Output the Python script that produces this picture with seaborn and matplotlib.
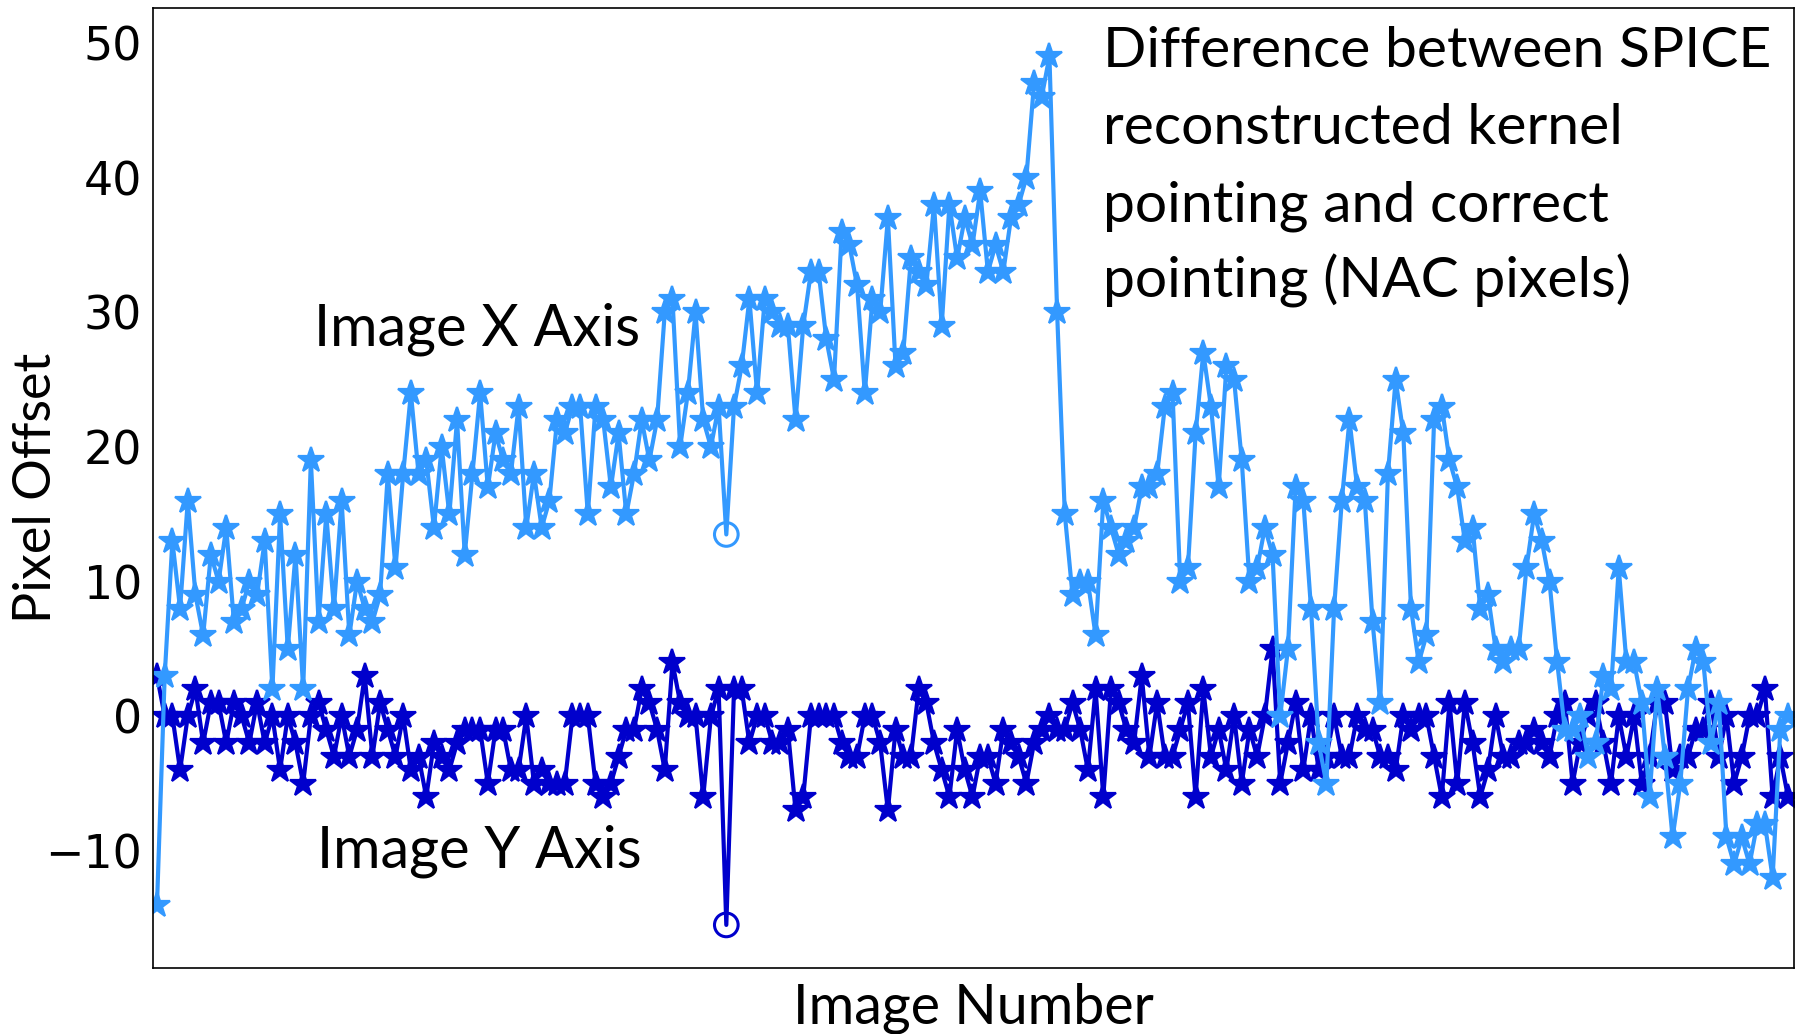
import matplotlib
matplotlib.use("Agg")
import matplotlib.pyplot as plt
import numpy as np
import pandas as pd
import seaborn as sns

# ---------------- data ----------------
image_x_offset = [
    -14, 3, 13, 8, 16, 9, 6, 12, 10, 14, 7, 8, 10, 9, 13, 2, 15, 5, 12, 2,
    19, 7, 15, 8, 16, 6, 10, 8, 7, 9, 18, 11, 18, 24, 18, 19, 14, 20,
    15, 22, 12, 18, 24, 17, 21, 19, 18, 23, 14, 18, 14, 16, 22, 21, 23, 23,
    15, 23, 22, 17, 21, 15, 18, 22, 19, 22, 30, 31, 20, 24, 30, 22, 20, 23,
    13.5, 23, 26, 31, 24, 31, 30, 29, 29, 22, 29, 33, 33, 28, 25, 36, 35, 32,
    24, 31, 30, 37, 26, 27, 34, 33, 32, 38, 29, 38,
    34, 37, 35, 39, 33, 35, 33, 37, 38, 40, 47, 46, 49, 30, 15, 9, 10, 10, 6,
    16, 14, 12, 13, 14, 17, 17, 18, 23, 24, 10, 11, 21, 27, 23, 17, 26, 25,
    19, 10, 11, 14, 12, 0, 5, 17, 16, 8, -2, -5, 8, 16, 22, 17, 16, 7, 1, 18,
    25, 21, 8, 4, 6, 22, 23, 19, 17,
    13, 14, 8, 9, 5, 4, 5, 5, 11, 15, 13, 10, 4, -1, -1, 0, -3, -2, 3, 2, 11,
    4, 4, 1, -6, 2, -3, -9, -5, 2, 5, 4, -2, 1, -9, -11, -9, -11, -8, -8,
    -12, -1, 0,
]
image_y_offset = [
    3, 0, 0, -4, 0, 2, -2, 1, 1, -2, 1, 0, -2, 1, -2, 0, -4, 0, -2, -5, 0, 1,
    -1, -3, 0, -3, -1, 3, -3, 1, -1, -3, 0, -4, -3, -6, -2, -3,
    -4, -2, -1, -1, -1, -5, -1, -1, -4, -4, 0, -5, -4, -5, -5, -5, 0, 0, 0,
    -5, -6, -5, -3, -1, -1, 2, 1, -1, -4, 4, 1, 0, 0, -6, 0, 2, -15.5, 2, 2,
    -2, 0, 0, -2, -2, -1, -7, -6, 0, 0, 0, 0, -2, -3, -3, 0, 0, -2, -7, -1,
    -3, -3, 2, 1, -2, -4, -6,
    -1, -4, -6, -3, -3, -5, -1, -2, -3, -5, -2, -1, 0, -1, -1, 1, -1, -4, 2,
    -6, 2, 1, -1, -2, 3, -3, 1, -3, -3, -1, 1, -6, 2, -3, -1, -4, 0, -5, -1,
    -3, 0, 5, -5, -2, 1, -4, 0, -4, -3, 0, -3, -3, 0, -1, -1, -3, -3, -4, 0,
    -1, 0, 0, -3, -6, 1,
    -5, 1, -2, -6, -4, 0, -3, -3, -2, -2, -1, -2, -3, 0, 1, -5, -2, 0, 1, -2,
    -5, 0, -3, 0, -5, -3, 1, 1, -4, -3, -3, -1, -1, 1, -3, 0, -5, -3, 0, 0,
    2, -6, -3, -6,
]
outlier_image = 74          # image drawn with an open circle instead of a star
y_ticks = [-10, 0, 10, 20, 30, 40, 50]
label_x_series = "Image X Axis"
label_y_series = "Image Y Axis"
note_lines = ["Difference between SPICE", "reconstructed kernel",
              "pointing and correct", "pointing (NAC pixels)"]

n = min(len(image_x_offset), len(image_y_offset))
image_number = np.arange(n)
df = pd.DataFrame({"image": image_number,
                   "x_off": image_x_offset[:n],
                   "y_off": image_y_offset[:n]})

LIGHT = "#3399ff"
DARK = "#0000cc"

# ---------------- figure ----------------
sns.set_style("white")
plt.rcParams["font.family"] = ["DejaVu Sans"]
plt.rcParams["text.color"] = "black"
plt.rcParams["axes.labelcolor"] = "black"
W, H = 1805, 1034
fig = plt.figure(figsize=(W / 100, H / 100), dpi=100)
ax = fig.add_axes([153 / W, 1 - 968 / H, (1794 - 153) / W, (968 - 8) / H])

star_idx = [i for i in range(n) if i != outlier_image]

sns.lineplot(data=df, x="image", y="y_off", color=DARK, linewidth=3.0,
             marker="*", markersize=19, markeredgewidth=1.6,
             markeredgecolor=DARK, markerfacecolor=DARK,
             markevery=star_idx, legend=False, ax=ax)
sns.lineplot(data=df, x="image", y="x_off", color=LIGHT, linewidth=3.0,
             marker="*", markersize=19, markeredgewidth=1.6,
             markeredgecolor=LIGHT, markerfacecolor=LIGHT,
             markevery=star_idx, legend=False, ax=ax)

out = df[df["image"] == outlier_image]
sns.scatterplot(data=out, x="image", y="x_off", marker="o", s=290,
                facecolors="none", edgecolor=LIGHT, linewidth=2.2,
                legend=False, ax=ax, zorder=5)
sns.scatterplot(data=out, x="image", y="y_off", marker="o", s=290,
                facecolors="none", edgecolor=DARK, linewidth=2.2,
                legend=False, ax=ax, zorder=5)

ax.set_xlim(-0.52, n - 1 + 0.78)
ax.set_ylim(-18.7, 52.6)
ax.set_xticks([])
ax.set_yticks(y_ticks)
ax.tick_params(axis="y", length=0, pad=8, labelsize=33, colors="black")
for s in ax.spines.values():
    s.set_color("black")
    s.set_linewidth(1.2)

txt_font = ["Lato", "DejaVu Sans"]
ax.set_xlabel("Image Number", fontsize=40, family=txt_font, color="black")
ax.set_ylabel("Pixel Offset", fontsize=37.5, family=txt_font, color="black")
ax.xaxis.label.set_va("baseline")
ax.xaxis.set_label_coords((846 * 1.151 - 153) / 1641, (968 - 1024) / 960)
ax.yaxis.label.set_va("center")
ax.yaxis.set_label_coords((37 - 153) / 1641, (968 - 488) / 960)

def to_ax(px, py):
    return (px - 153) / 1641, (968 - py) / 960

tx, ty = to_ax(314, 345)
ax.text(tx, ty, label_x_series, transform=ax.transAxes, fontsize=41.5,
        family=txt_font, va="baseline", ha="left", color="black")
tx, ty = to_ax(317, 867)
ax.text(tx, ty, label_y_series, transform=ax.transAxes, fontsize=41.5,
        family=txt_font, va="baseline", ha="left", color="black")
for k, line in enumerate(note_lines):
    tx, ty = to_ax(1103, 67 + 77 * k)
    ax.text(tx, ty, line, transform=ax.transAxes, fontsize=41,
            family=txt_font, va="baseline", ha="left", color="black")

fig.savefig("out.png", dpi=100)
